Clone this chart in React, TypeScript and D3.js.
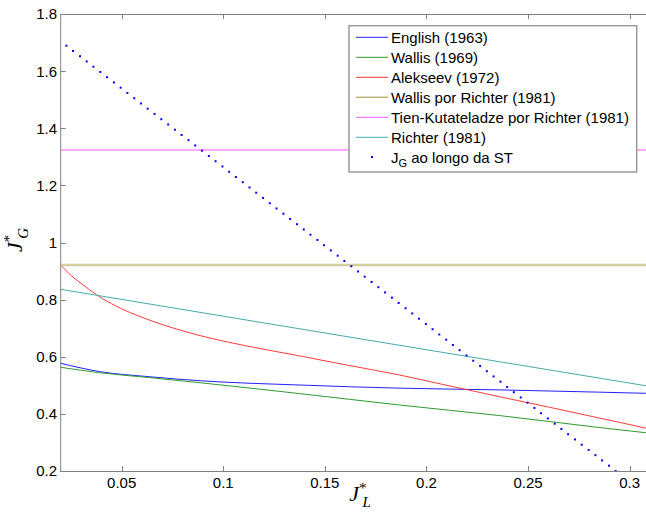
import React from "react";
import * as d3 from "d3";

// ---------- data ----------
const englishX = [0.02, 0.0392, 0.0638, 0.0886, 0.1376, 0.1868, 0.236, 0.2853, 0.3079, 0.3126];
const englishY = [0.577, 0.548, 0.53, 0.516, 0.501, 0.49, 0.484, 0.476, 0.472, 0.471];

const wallisX = [0.02, 0.0392, 0.0638, 0.0886, 0.1376, 0.1868, 0.236, 0.2853, 0.3079, 0.3126];
const wallisY = [0.563, 0.544, 0.527, 0.509, 0.471, 0.431, 0.394, 0.352, 0.334, 0.33];

const alekseevX = [0.02, 0.025, 0.03, 0.04, 0.05, 0.065, 0.0886, 0.11, 0.1376, 0.16, 0.1868, 0.21, 0.236, 0.26, 0.2853, 0.3079, 0.3126];
const alekseevY = [0.921, 0.885, 0.857, 0.806, 0.768, 0.725, 0.674, 0.64, 0.603, 0.572, 0.536, 0.5, 0.46, 0.424, 0.385, 0.35, 0.342];

const wallisRichterX = [0.02, 0.3126];
const wallisRichterY = [0.921, 0.921];

const tienX = [0.02, 0.3126];
const tienY = [1.324, 1.324];

const richterX = [0.02, 0.1, 0.1868, 0.3126];
const richterY = [0.836, 0.742, 0.64, 0.493];

const stX = [
  0.0228, 0.0261, 0.0295, 0.0328, 0.0361, 0.0395, 0.0428, 0.0462, 0.0495, 0.0528,
  0.0562, 0.0595, 0.0628, 0.0662, 0.0695, 0.0729, 0.0762, 0.0795, 0.0829, 0.0862,
  0.0895, 0.0929, 0.0962, 0.0996, 0.1029, 0.1062, 0.1096, 0.1129, 0.1162, 0.1196,
  0.1229, 0.1262, 0.1296, 0.1329, 0.1363, 0.1396, 0.1429, 0.1463, 0.1496, 0.1529,
  0.1563, 0.1596, 0.163, 0.1663, 0.1696, 0.173, 0.1763, 0.1796, 0.183, 0.1863,
  0.1897, 0.193, 0.1963, 0.1997, 0.203, 0.2063, 0.2097, 0.213, 0.2163, 0.2197,
  0.223, 0.2264, 0.2297, 0.233, 0.2364, 0.2397, 0.243, 0.2464, 0.2497, 0.2531,
  0.2564, 0.2597, 0.2631, 0.2664, 0.2697, 0.2731, 0.2764, 0.2798, 0.2831, 0.2864,
  0.2898, 0.2931,
];
const stY = [
  1.689, 1.6706, 1.6522, 1.6339, 1.6155, 1.5971, 1.5787, 1.5603, 1.542, 1.5236,
  1.5052, 1.4868, 1.4684, 1.4501, 1.4317, 1.4133, 1.3949, 1.3765, 1.3582, 1.3398,
  1.3214, 1.303, 1.2846, 1.2663, 1.2479, 1.2295, 1.2111, 1.1927, 1.1744, 1.156,
  1.1376, 1.1192, 1.1008, 1.0825, 1.0641, 1.0457, 1.0273, 1.0089, 0.9906, 0.9722,
  0.9538, 0.9354, 0.917, 0.8987, 0.8803, 0.8619, 0.8435, 0.8251, 0.8068, 0.7884,
  0.77, 0.7516, 0.7332, 0.7149, 0.6965, 0.6781, 0.6597, 0.6413, 0.623, 0.6046,
  0.5862, 0.5678, 0.5494, 0.5311, 0.5127, 0.4943, 0.4759, 0.4575, 0.4392, 0.4208,
  0.4024, 0.384, 0.3656, 0.3473, 0.3289, 0.3105, 0.2921, 0.2737, 0.2554, 0.237,
  0.2186, 0.2002,
];

const xTicks = [0.05, 0.1, 0.15, 0.2, 0.25, 0.3];
const xTickLabels = ["0.05", "0.1", "0.15", "0.2", "0.25", "0.3"];
const yTicks = [0.2, 0.4, 0.6, 0.8, 1.0, 1.2, 1.4, 1.6, 1.8];
const yTickLabels = ["0.2", "0.4", "0.6", "0.8", "1", "1.2", "1.4", "1.6", "1.8"];

const legendLabels = [
  "English (1963)",
  "Wallis (1969)",
  "Alekseev (1972)",
  "Wallis por Richter (1981)",
  "Tien-Kutateladze por Richter (1981)",
  "Richter (1981)",
];

// ---------- layout ----------
const W = 646;
const H = 512;
const L = 60.7;
const R = 655.3;
const T = 14;
const B = 471;
const axisColor = "#808080";
const tickFont = "'Liberation Sans', Arial, sans-serif";
const serifFont = "'Liberation Serif', 'Times New Roman', serif";

const series = [
  { xs: englishX, ys: englishY, color: "#2020ff", width: 1, lw: 1 },
  { xs: wallisX, ys: wallisY, color: "#2e9a2e", width: 1, lw: 1 },
  { xs: alekseevX, ys: alekseevY, color: "#ff3a3a", width: 1, lw: 1 },
  { xs: wallisRichterX, ys: wallisRichterY, color: "#d3cf9e", width: 2.5, lw: 1.5, legendColor: "#b9b577" },
  { xs: tienX, ys: tienY, color: "#ff55ff", width: 1, lw: 1 },
  { xs: richterX, ys: richterY, color: "#45aaaa", width: 1, lw: 1 },
];

export default function App() {
  const x = d3.scaleLinear().domain([0.02, 0.3126]).range([L, R]);
  const y = d3.scaleLinear().domain([0.2, 1.8]).range([B, T]);
  const line = d3
    .line<[number, number]>()
    .x((d) => x(d[0]))
    .y((d) => y(d[1]))
    .curve(d3.curveMonotoneX);

  const legendX0 = 349;
  const legendY0 = 25.7;
  const rowH = 20;

  return (
    <svg
      width={W}
      height={H}
      style={{ position: "absolute", left: 0, top: 0, background: "#fff" }}
    >
      <defs>
        <clipPath id="plotClip">
          <rect x={L} y={T} width={R - L} height={B - T + 1} />
        </clipPath>
      </defs>
      <rect x={0} y={0} width={W} height={H} fill="#fff" />

      {/* series */}
      <g clipPath="url(#plotClip)">
        {series.map((s, i) => (
          <path
            key={i}
            d={line(s.xs.map((v, j) => [v, s.ys[j]] as [number, number])) || ""}
            fill="none"
            stroke={s.color}
            strokeWidth={s.width}
          />
        ))}
        {stX.map((v, i) => (
          <rect
            key={"st" + i}
            x={x(v) - 1}
            y={y(stY[i]) - 1}
            width={2}
            height={2}
            fill="#0000ff"
          />
        ))}
      </g>

      {/* axes */}
      <g stroke={axisColor} strokeWidth={1} fill="none">
        <line x1={L} y1={T + 0.5} x2={W} y2={T + 0.5} />
        <line x1={L} y1={B + 0.5} x2={W} y2={B + 0.5} />
        <line x1={L} y1={T} x2={L} y2={B + 1} />
        {xTicks.map((t, i) => (
          <g key={"xt" + i}>
            <line x1={Math.round(x(t)) + 0.5} y1={B} x2={Math.round(x(t)) + 0.5} y2={B - 5} />
            <line x1={Math.round(x(t)) + 0.5} y1={T} x2={Math.round(x(t)) + 0.5} y2={T + 5} />
          </g>
        ))}
        {yTicks.map((t, i) => (
          <line key={"yt" + i} x1={L} y1={Math.round(y(t)) + 0.5} x2={L + 5} y2={Math.round(y(t)) + 0.5} />
        ))}
      </g>

      {/* tick labels */}
      <g fontFamily={tickFont} fontSize={15} fill="#000">
        {xTicks.map((t, i) => (
          <text key={"xl" + i} x={x(t)} y={487.5} textAnchor="middle">
            {xTickLabels[i]}
          </text>
        ))}
        {yTicks.map((t, i) => (
          <text key={"yl" + i} x={57} y={y(t)} dy="0.36em" textAnchor="end">
            {yTickLabels[i]}
          </text>
        ))}
      </g>

      {/* axis labels */}
      <text
        x={360}
        y={501}
        textAnchor="middle"
        fontFamily={serifFont}
        fontStyle="italic"
        fontSize={22}
      >
        <tspan>J</tspan>
        <tspan dy={-8} fontSize={15} fontStyle="normal">*</tspan>
        <tspan dx={-4} dy={14} fontSize={15}>L</tspan>
      </text>
      <text
        transform="translate(22,240) rotate(-90)"
        textAnchor="middle"
        fontFamily={serifFont}
        fontStyle="italic"
        fontSize={22}
      >
        <tspan>J</tspan>
        <tspan dy={-8} fontSize={15} fontStyle="normal">*</tspan>
        <tspan dx={-4} dy={14} fontSize={15}>G</tspan>
      </text>

      {/* legend */}
      <rect
        x={legendX0}
        y={legendY0}
        width={636.7 - legendX0}
        height={172 - legendY0}
        fill="#fff"
        stroke="#9a9a9a"
        strokeWidth={1.5}
      />
      <g fontFamily={tickFont} fontSize={15} fill="#000">
        {legendLabels.map((lab, i) => {
          const cy = 37.3 + i * rowH;
          const s = series[i] as any;
          return (
            <g key={"lg" + i}>
              <line
                x1={356}
                x2={388}
                y1={cy}
                y2={cy}
                stroke={s.legendColor || s.color}
                strokeWidth={s.lw}
              />
              <text x={391} y={cy + 5.4}>
                {lab}
              </text>
            </g>
          );
        })}
        <rect x={371} y={156} width={2} height={2} fill="#0000ff" />
        <text x={391} y={37.3 + 6 * rowH + 5.4}>
          <tspan>J</tspan>
          <tspan dy={4} fontSize={11}>G</tspan>
          <tspan dy={-4}> ao longo da ST</tspan>
        </text>
      </g>
    </svg>
  );
}
